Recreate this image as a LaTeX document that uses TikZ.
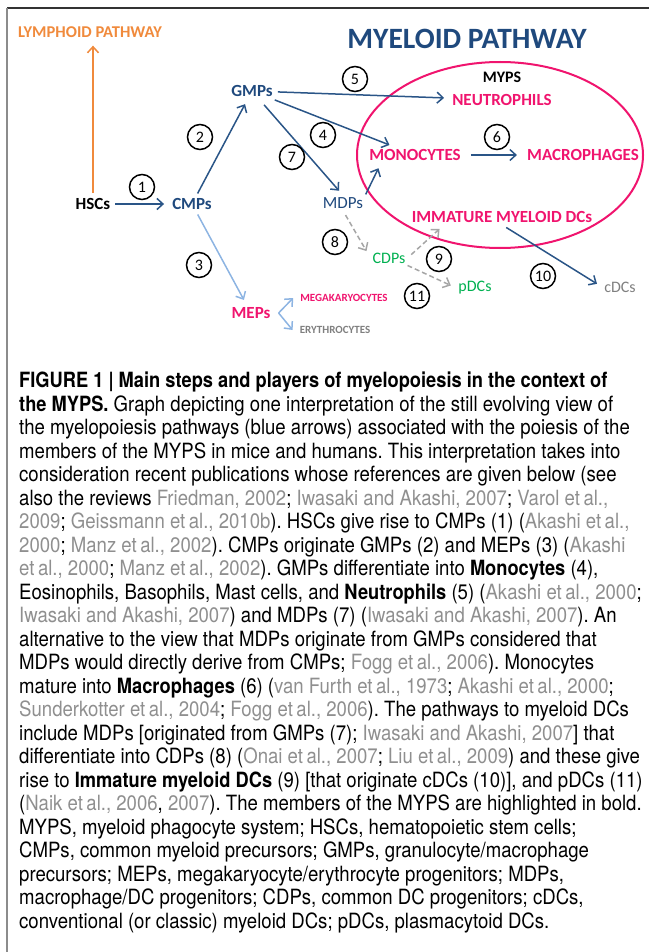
\documentclass[tikz,border=0pt]{standalone}
\usepackage{fontspec}
\usepackage[rgb]{xcolor}
\usetikzlibrary{arrows.meta}
\newfontfamily\figfont{Carlito}
\newfontfamily\capfont{TeX Gyre Heros}[UprightFeatures={FakeStretch=0.885}, BoldFeatures={FakeStretch=0.87}]
\definecolor{darkblue}{HTML}{1F497D}
\definecolor{arrowblue}{HTML}{2A5587}
\definecolor{lightblue}{HTML}{8DB4E2}
\definecolor{mypink}{HTML}{F0146E}
\definecolor{lymphorange}{HTML}{F08A3C}
\definecolor{dcgreen}{HTML}{00B050}
\definecolor{dcgray}{HTML}{7F7F7F}
\definecolor{dashgray}{HTML}{A6A6A6}
\definecolor{citegray}{HTML}{8F8F8F}
\newcommand{\cit}[1]{\textcolor{citegray}{#1}}
\frenchspacing
\tikzset{
  cell/.style={font=\figfont\bfseries\fontsize{17}{17}\selectfont, text=darkblue, inner sep=2pt},
  member/.style={cell, text=mypink},
  dctext/.style={font=\figfont\fontsize{16}{16}\selectfont, inner sep=2pt},
  smalltext/.style={font=\figfont\bfseries\fontsize{11}{11}\selectfont, inner sep=2pt},
  numcircle/.style={draw, circle, line width=1.5pt, minimum size=25pt, inner sep=0pt, font=\figfont\fontsize{16}{16}\selectfont},
  bluearrow/.style={-{Straight Barb[length=6pt,width=11pt]}, line width=1.5pt, arrowblue, shorten >=6pt, shorten <=3pt},
  lightarrow/.style={bluearrow, lightblue},
  dasharrow/.style={bluearrow, dashgray, dash pattern=on 5pt off 3pt},
  captext/.style={font=\capfont\fontsize{21}{23.5}\selectfont, align=left, inner sep=0pt, anchor=north west}
}
\begin{document}
\begin{tikzpicture}[x=1pt,y=-1pt]
\useasboundingbox (0,0) rectangle (649,952);
\draw[line width=1.5pt, black!80] (7,8) -- (649,8);
\draw[line width=1.5pt, black!45] (7,8) -- (7,952);

% titles
\node[cell, text=lymphorange, font=\figfont\bfseries\fontsize{16.5}{16.5}\selectfont] (lymph) at (90,32) {LYMPHOID PATHWAY};
\node[cell, font=\figfont\bfseries\fontsize{29.5}{29.5}\selectfont] (myel) at (467,39) {MYELOID PATHWAY};

% MYPS
\draw[mypink, line width=2pt] (500,155) ellipse [x radius=143, y radius=93];
\node[cell, text=black, font=\figfont\bfseries\fontsize{16}{16}\selectfont] (myps) at (502,77) {MYPS};
\node[member] (neut) at (502,100) {NEUTROPHILS};
\node[member] (mono) at (415,155) {MONOCYTES};
\node[member] (macro) at (583,155) {MACROPHAGES};
\node[member] (imm) at (502,217) {IMMATURE MYELOID DCs};

% progenitors
\node[cell, text=black] (hsc) at (93,204) {HSCs};
\node[cell] (cmp) at (192,204) {CMPs};
\node[cell] (gmp) at (252,91) {GMPs};
\node[member] (mep) at (251,313) {MEPs};
\node[dctext, text=darkblue, font=\figfont\fontsize{17}{17}\selectfont] (mdp) at (343,203) {MDPs};
\node[dctext, text=dcgreen] (cdp) at (389,258) {CDPs};
\node[dctext, text=dcgreen] (pdc) at (475,288) {pDCs};
\node[dctext, text=dcgray] (cdc) at (620,287) {cDCs};
\node[smalltext, text=mypink] (mega) at (344,298) {MEGAKARYOCYTES};
\node[smalltext, text=dcgray] (ery) at (335,330) {ERYTHROCYTES};

% arrows
\draw[bluearrow, lymphorange] (hsc.north) -- (hsc.north |- lymph.south);
\draw[bluearrow] (hsc) -- (cmp);
\draw[bluearrow] (cmp) -- (gmp);
\draw[lightarrow] (cmp) -- (mep);
\draw[bluearrow] (gmp) -- (neut);
\draw[bluearrow] (gmp) -- (mono);
\draw[bluearrow, shorten <=8pt] (gmp) -- (mdp.north);
\draw[bluearrow, shorten <=1pt] (mdp.north east) -- ([xshift=14pt]mono.south west);
\draw[bluearrow, shorten >=8pt, shorten <=8pt] (mono) -- (macro);
\draw[bluearrow, shorten <=5pt] (imm.south) -- (cdc.west);
\draw[dasharrow, shorten <=5pt, shorten >=8pt] (mdp.south) -- (cdp.west);
\draw[dasharrow, shorten <=5pt] (cdp.east) -- ([xshift=-58pt]imm.south);
\draw[dasharrow, shorten <=0pt] (cdp.south east) -- (pdc.west);
\draw[lightarrow, shorten <=0pt, shorten >=0pt] ([xshift=6pt]mep.east) -- ([xshift=-5pt]mega.west);
\draw[lightarrow, shorten <=0pt, shorten >=0pt] ([xshift=6pt]mep.east) -- ([xshift=-5pt]ery.west);

% steps
\node[numcircle] (c1) at (142,187) {1};
\node[numcircle] (c2) at (200,137) {2};
\node[numcircle] (c3) at (199,265) {3};
\node[numcircle] (c4) at (323,135) {4};
\node[numcircle] (c5) at (355,79) {5};
\node[numcircle] (c6) at (497,137) {6};
\node[numcircle] (c7) at (292,157) {7};
\node[numcircle] (c8) at (335,242) {8};
\node[numcircle] (c9) at (439,259) {9};
\node[numcircle] (c10) at (543,276) {10};
\node[numcircle] (c11) at (417,296) {11};

% caption
\node[captext] (cap) at (19,372) {%
\textbf{FIGURE 1 | Main steps and players of myelopoiesis in the context of}\\
\textbf{the MYPS.} Graph depicting one interpretation of the still evolving view of\\
the myelopoiesis pathways (blue arrows) associated with the poiesis of the\\
members of the MYPS in mice and humans. This interpretation takes into\\
consideration recent publications whose references are given below (see\\
also the reviews \cit{Friedman, 2002}; \cit{Iwasaki and Akashi, 2007}; \cit{Varol et\,al.,}\\
\cit{2009}; \cit{Geissmann et\,al., 2010b}). HSCs give rise to CMPs (1) (\cit{Akashi et\,al.,}\\
\cit{2000}; \cit{Manz et\,al., 2002}). CMPs originate GMPs (2) and MEPs (3) (\cit{Akashi}\\
\cit{et\,al., 2000}; \cit{Manz et\,al., 2002}). GMPs differentiate into \textbf{Monocytes} (4),\\
Eosinophils, Basophils, Mast cells, and \textbf{Neutrophils} (5) (\cit{Akashi et\,al., 2000};\\
\cit{Iwasaki and Akashi, 2007}) and MDPs (7) (\cit{Iwasaki and Akashi, 2007}). An\\
alternative to the view that MDPs originate from GMPs considered that\\
MDPs would directly derive from CMPs; \cit{Fogg et\,al., 2006}). Monocytes\\
mature into \textbf{Macrophages} (6) (\cit{van Furth et\,al., 1973}; \cit{Akashi et\,al., 2000};\\
\cit{Sunderkotter et\,al., 2004}; \cit{Fogg et\,al., 2006}). The pathways to myeloid DCs\\
include MDPs [originated from GMPs (7); \cit{Iwasaki and Akashi, 2007}] that\\
differentiate into CDPs (8) (\cit{Onai et\,al., 2007}; \cit{Liu et\,al., 2009}) and these give\\
rise to \textbf{Immature myeloid DCs} (9) [that originate cDCs (10)], and pDCs (11)\\
(\cit{Naik et\,al., 2006}, \cit{2007}). The members of the MYPS are highlighted in bold.\\
MYPS, myeloid phagocyte system; HSCs, hematopoietic stem cells;\\
CMPs, common myeloid precursors; GMPs, granulocyte/macrophage\\
precursors; MEPs, megakaryocyte/erythrocyte progenitors; MDPs,\\
macrophage/DC progenitors; CDPs, common DC progenitors; cDCs,\\
conventional (or classic) myeloid DCs; pDCs, plasmacytoid DCs.};
\end{tikzpicture}
\end{document}
